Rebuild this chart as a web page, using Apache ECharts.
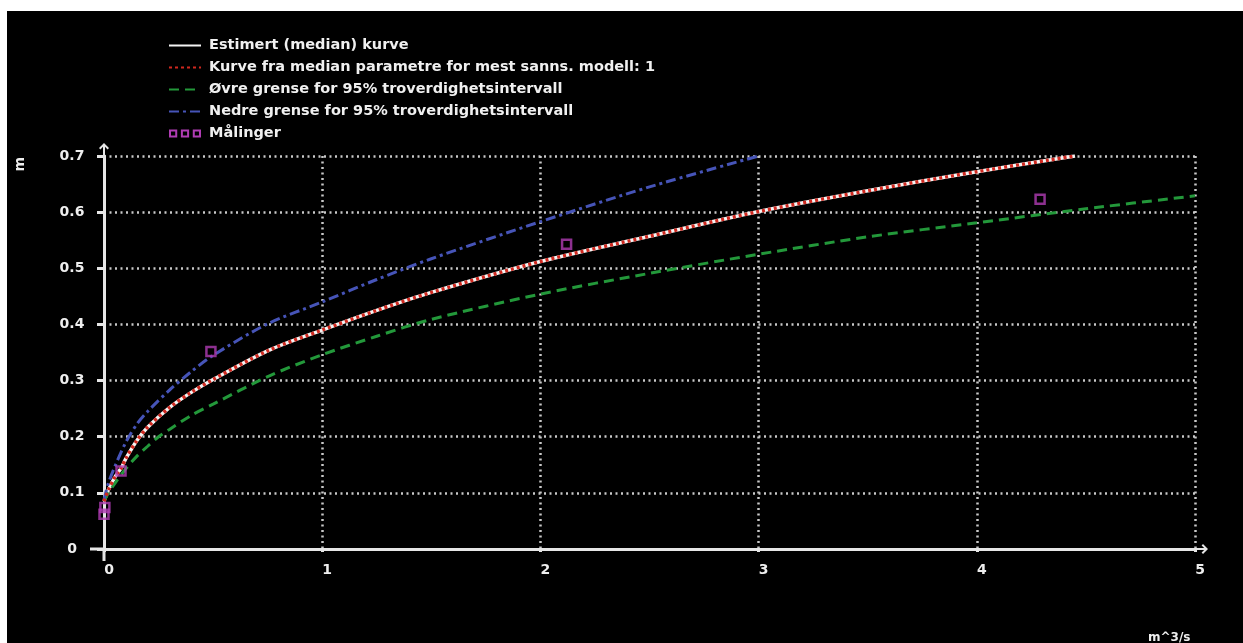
<!DOCTYPE html>
<html>
<head>
<meta charset="utf-8">
<script src="https://cdn.jsdelivr.net/npm/echarts@6/dist/echarts.min.js"></script>
<style>
html,body{margin:0;padding:0;background:#ffffff;width:1243px;height:643px;overflow:hidden;}
#chart{position:absolute;left:7px;top:11px;width:1236px;height:632px;background:#000;}
</style>
</head>
<body>
<div id="chart"></div>
<script>
// ---- data ----
const seriesNames = [
  'Estimert (median) kurve',
  'Kurve fra median parametre for mest sanns. modell: 1',
  'Øvre grense for 95% troverdighetsintervall',
  'Nedre grense for 95% troverdighetsintervall',
  'Målinger'
];
const xTickLabels = ['0','1','2','3','4','5'];
const yTickLabels = ['0','0.1','0.2','0.3','0.4','0.5','0.6','0.7'];
const xAxisName = 'm^3/s';
const yAxisName = 'm';

const medianQ = [0, 0.02, 0.05, 0.08, 0.1, 0.15, 0.2, 0.3, 0.4, 0.5, 0.75, 1, 1.25, 1.5, 2, 2.5, 3, 3.5, 4, 4.45];
const medianH = [0.085, 0.105, 0.128, 0.145, 0.161, 0.193, 0.217, 0.252, 0.279, 0.302, 0.353, 0.390, 0.425, 0.457, 0.512, 0.557, 0.601, 0.638, 0.672, 0.700];

const upperQ = [0, 0.02, 0.05, 0.1, 0.15, 0.2, 0.25, 0.3, 0.4, 0.5, 0.75, 1, 1.25, 1.5, 2, 2.5, 3, 3.5, 4, 4.5, 5];
const upperH = [0.085, 0.1, 0.117, 0.143, 0.165, 0.183, 0.2, 0.213, 0.238, 0.258, 0.307, 0.346, 0.379, 0.409, 0.454, 0.491, 0.525, 0.556, 0.581, 0.606, 0.629];

const lowerQ = [0, 0.02, 0.05, 0.1, 0.15, 0.2, 0.3, 0.4, 0.5, 0.75, 1, 1.25, 1.5, 2, 2.5, 3.0];
const lowerH = [0.088, 0.117, 0.147, 0.19, 0.222, 0.245, 0.283, 0.316, 0.345, 0.401, 0.440, 0.480, 0.517, 0.583, 0.645, 0.700];

const measQ = [0.0, 0.004, 0.078, 0.49, 2.12, 4.29];
const measH = [0.062, 0.074, 0.139, 0.352, 0.543, 0.623];

// ---- chart ----
const pairs = (xs, ys) => xs.map((x, i) => [x, ys[i]]);
const chart = echarts.init(document.getElementById('chart'), null, {renderer: 'canvas'});
const FONT = 'DejaVu Sans';
const AXC = '#e6e6e6';
const arrowPath = 'path://M5,0 L10,5 L8.6,6.4 L6,3.8 L6,14 L4,14 L4,3.8 L1.4,6.4 L0,5 Z';
const squaresIcon = 'path://M0,0H9V9H0Z M2.2,2.2V6.8H6.8V2.2Z M13,0H22V9H13Z M15.2,2.2V6.8H19.8V2.2Z M26,0H35V9H26Z M28.2,2.2V6.8H32.8V2.2Z';
const GRIDLINE = {show: true, lineStyle: {color: '#c8c8c8', width: 2.5, type: [2, 3.5]}};

const option = {
  backgroundColor: '#000',
  animation: false,
  legend: {
    orient: 'vertical',
    left: 161, top: 27, padding: 0,
    itemWidth: 32, itemHeight: 10, itemGap: 7,
    itemStyle: {opacity: 0},
    textStyle: {color: '#f0f0f0', fontFamily: FONT, fontWeight: 'bold', fontSize: 14.5, padding: [0, 0, 0, 3]},
    data: [
      {name: seriesNames[0]},
      {name: seriesNames[1]},
      {name: seriesNames[2]},
      {name: seriesNames[3]},
      {name: seriesNames[4], icon: squaresIcon, itemStyle: {color: '#b03cb4', borderWidth: 0, opacity: 1},
        textStyle: {padding: [6, 0, 0, 3]}}
    ]
  },
  grid: {left: 97, right: 48, top: 145, bottom: 94, containLabel: false},
  xAxis: {
    type: 'value', min: 0, max: 5, interval: 1,
    axisLine: {show: true, onZero: false, lineStyle: {color: AXC, width: 3},
      symbol: ['none', arrowPath], symbolSize: [10, 14], symbolOffset: [0, 6]},
    axisTick: {show: true, length: 3, lineStyle: {color: AXC, width: 3}},
    axisLabel: {color: '#eeeeee', fontFamily: FONT, fontWeight: 'bold', fontSize: 14, margin: 14,
      padding: [0, 0, 0, 10], formatter: v => xTickLabels[Math.round(v)] },
    splitLine: GRIDLINE
  },
  yAxis: {
    type: 'value', min: 0, max: 0.7, interval: 0.1,
    axisLine: {show: true, onZero: false, lineStyle: {color: AXC, width: 3},
      symbol: ['none', arrowPath], symbolSize: [10, 14], symbolOffset: [0, 6]},
    axisTick: {show: true, length: 7, lineStyle: {color: AXC, width: 3}},
    axisLabel: {color: '#eeeeee', fontFamily: FONT, fontWeight: 'bold', fontSize: 14, margin: 32, align: 'center',
      formatter: v => yTickLabels[Math.round(v * 10)] },
    splitLine: GRIDLINE
  },
  series: [
    {name: seriesNames[0], type: 'line', symbol: 'none', smooth: 0.3, data: pairs(medianQ, medianH),
      lineStyle: {color: '#f4f4f4', width: 3.5}, itemStyle: {color: '#f4f4f4'}, z: 3},
    {name: seriesNames[1], type: 'line', symbol: 'none', smooth: 0.3, data: pairs(medianQ, medianH),
      lineStyle: {color: '#d0281f', width: 3.5, type: [3, 3]}, itemStyle: {color: '#d0281f'}, z: 4},
    {name: seriesNames[2], type: 'line', symbol: 'none', smooth: 0.3, data: pairs(upperQ, upperH),
      lineStyle: {color: '#23983a', width: 3, type: [10, 6]}, itemStyle: {color: '#23983a'}, z: 3},
    {name: seriesNames[3], type: 'line', symbol: 'none', smooth: 0.3, data: pairs(lowerQ, lowerH),
      lineStyle: {color: '#4654b8', width: 3, type: [10, 4, 3, 4]}, itemStyle: {color: '#4654b8'}, z: 3},
    {name: seriesNames[4], type: 'scatter', symbol: 'rect', symbolSize: 9, data: pairs(measQ, measH),
      itemStyle: {color: 'rgba(0,0,0,0)', borderColor: '#b03cb4', borderWidth: 2.5}, z: 5}
  ]
};
chart.setOption(option);

// axis decorations placed through the chart's own scales
const o = chart.convertToPixel({gridIndex: 0}, [0, 0]);
chart.setOption({
  graphic: [
    {type: 'line', shape: {x1: o[0] - 14, y1: o[1], x2: o[0], y2: o[1]}, style: {stroke: AXC, lineWidth: 3}, z: 10},
    {type: 'line', shape: {x1: o[0], y1: o[1], x2: o[0], y2: o[1] + 12}, style: {stroke: AXC, lineWidth: 3}, z: 10},
    {type: 'text', left: 6, top: 146, rotation: Math.PI / 2,
      style: {text: yAxisName, fill: '#eeeeee', font: 'bold 14px "DejaVu Sans"'}},
    {type: 'text', left: 1141, top: 621,
      style: {text: xAxisName, fill: '#eeeeee', font: 'bold 12px "DejaVu Sans"'}}
  ]
});
</script>
</body>
</html>
